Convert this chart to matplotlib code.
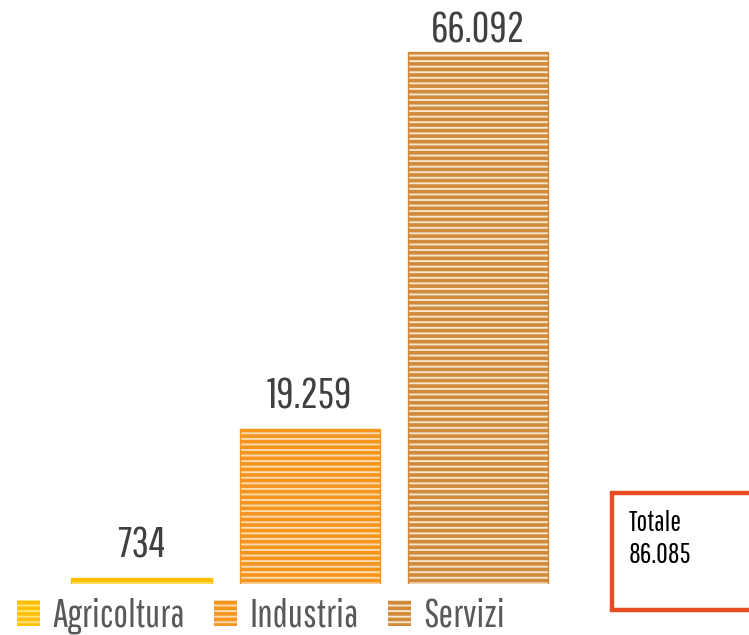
import matplotlib
matplotlib.use("Agg")
import matplotlib.pyplot as plt
from matplotlib.patches import Rectangle, Patch

categories = ["Agricoltura", "Industria", "Servizi"]
values = [734, 19259, 66092]
value_labels = ["734", "19.259", "66.092"]
total_label = "Totale\n86.085"

light_colors = ["#FFE680", "#FDDDB0", "#F6E6CE"]
dark_colors = ["#FFC000", "#F7941D", "#D08A3A"]

plt.rcParams["font.family"] = ["Pathway Gothic One", "DejaVu Sans"]
plt.rcParams["hatch.linewidth"] = 2.6

W, H = 749, 635
fig = plt.figure(figsize=(W / 100, H / 100), dpi=100)

# axes spans the full width; baseline sits at y=584 px
base_px = 584
ax = fig.add_axes([0, (H - base_px) / H, 1, base_px / H])
ax.axis("off")
x0, step = 141.5, 168.0
ax.set_xlim(-x0 / step, (W - x0) / step)
ax.set_ylim(0, max(values) * base_px / 532)

# label gap above each bar (points); the tallest one is squeezed by the top edge
label_gap = [14.5, 14.5, 6.5]

width = 140 / step
for i, (v, lab) in enumerate(zip(values, value_labels)):
    ax.bar(i, v, width=width, color=light_colors[i], edgecolor=dark_colors[i],
           hatch="---", linewidth=0)
    ax.bar(i, v, width=width, color="none", edgecolor=dark_colors[i], linewidth=1.0)
    ax.annotate(lab, (i, v), xytext=(0, label_gap[i]), textcoords="offset points",
                ha="center", va="baseline", fontsize=31, color="#404040")

handles = [Patch(facecolor=light_colors[i], edgecolor=dark_colors[i], hatch="---",
                 linewidth=0) for i in range(3)]
leg = fig.legend(handles, categories, loc="lower left", bbox_to_anchor=(17 / W, 1 / H),
                 ncol=3, frameon=False, fontsize=28, handlelength=0.59, handleheight=0.67,
                 handletextpad=0.31, columnspacing=0.76, borderaxespad=0, borderpad=0)
for t in leg.get_texts():
    t.set_color("#595959")

# total box at lower right
box = Rectangle((612 / W, (H - 610) / H), 150 / W, 117 / H, transform=fig.transFigure,
                facecolor="white", edgecolor="#E84C22", linewidth=3.2, clip_on=False)
fig.add_artist(box)
fig.text(629 / W, (H - 510) / H, total_label, ha="left", va="top", fontsize=20.5,
         color="black", linespacing=1.3)

fig.savefig("out.png", dpi=100)
